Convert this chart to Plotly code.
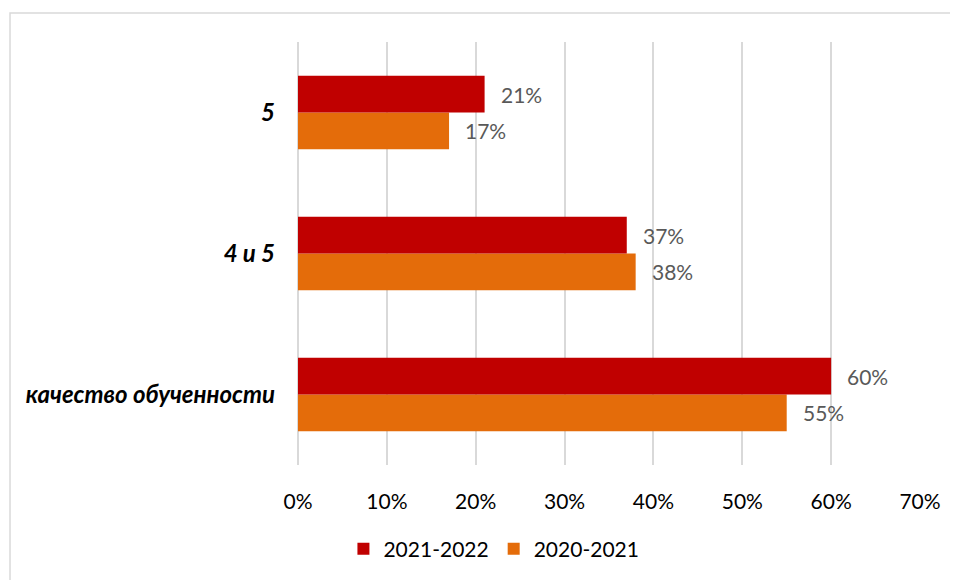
import plotly.graph_objects as go

categories = ["качество обученности", "4 и 5", "5"]
series_2021_2022 = [60, 37, 21]
series_2020_2021 = [55, 38, 17]
x_ticks = [0, 10, 20, 30, 40, 50, 60, 70]
x_tick_labels = [f"{v}%" for v in x_ticks]

RED = "#C00000"
ORANGE = "#E46C0A"
FONT = "Lato"
FS = 21

fig = go.Figure()
fig.add_trace(go.Bar(
    y=categories, x=series_2020_2021, orientation="h", name="2020-2021",
    marker=dict(color=ORANGE, line=dict(width=0)), legendrank=2,
))
fig.add_trace(go.Bar(
    y=categories, x=series_2021_2022, orientation="h", name="2021-2022",
    marker=dict(color=RED, line=dict(width=0)), legendrank=1,
))

annotations = []
for i, v in enumerate(series_2021_2022):
    annotations.append(dict(x=v, y=i, text=f"{v}%", xref="x", yref="y",
                            xanchor="left", yanchor="middle", showarrow=False,
                            xshift=14, yshift=18,
                            font=dict(family=FONT, size=FS, color="#595959")))
for i, v in enumerate(series_2020_2021):
    annotations.append(dict(x=v, y=i, text=f"{v}%", xref="x", yref="y",
                            xanchor="left", yanchor="middle", showarrow=False,
                            xshift=14, yshift=-18,
                            font=dict(family=FONT, size=FS, color="#595959")))

fig.update_layout(
    width=958, height=580,
    margin=dict(l=290, r=46, t=34, b=123),
    paper_bgcolor="white", plot_bgcolor="white",
    barmode="group", bargap=0.48, bargroupgap=0,
    font=dict(family=FONT, size=FS, color="#000000"),
    showlegend=True,
    legend=dict(orientation="h", x=0.315, y=-0.199, xanchor="center", yanchor="middle",
                font=dict(family=FONT, size=FS, color="#000000"), itemwidth=30,
                traceorder="normal"),
    annotations=annotations,
    shapes=[dict(type="rect", xref="paper", yref="paper",
                 x0=-0.463, x1=1.3, y0=-0.5, y1=1.0686,
                 line=dict(color="#D9D9D9", width=1.5), fillcolor="rgba(0,0,0,0)",
                 layer="below")],
)
fig.update_xaxes(
    range=[0, 70], tickvals=x_ticks, ticktext=x_tick_labels,
    showgrid=True, gridcolor="#D9D9D9", gridwidth=1.5,
    zeroline=True, zerolinecolor="#D9D9D9", zerolinewidth=1.5,
    showline=False, ticks="", ticklabelstandoff=22,
    tickfont=dict(family=FONT, size=FS, color="#000000"),
)
fig.update_yaxes(
    type="category", range=[-0.5, 2.5],
    categoryorder="array", categoryarray=categories,
    showgrid=False, zeroline=False, showline=False, ticks="",
    ticklabelstandoff=22,
    tickfont=dict(family=FONT, size=24, color="#000000", weight="bold", style="italic"),
)

fig.write_html("out.html")
